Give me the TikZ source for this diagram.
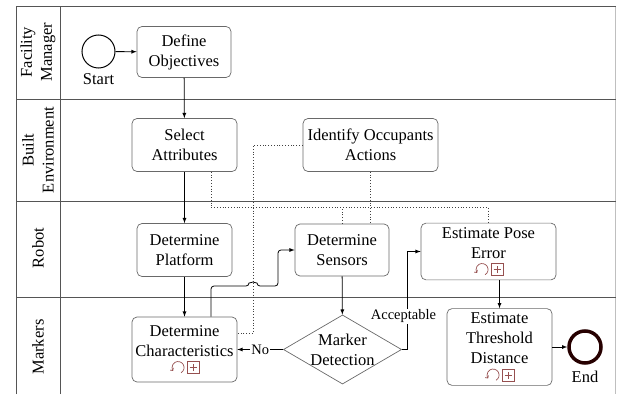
\documentclass[tikz,border=0pt]{standalone}
\usepackage{fontspec}
\setmainfont{Liberation Serif}
\usepackage{tikz}
\usetikzlibrary{shapes.geometric}
\usetikzlibrary{positioning}
\usetikzlibrary{calc}
\usetikzlibrary{arrows.meta}
\definecolor{lanegray}{RGB}{85,85,85}
\definecolor{boxgray}{RGB}{105,105,105}
\definecolor{markred}{RGB}{150,80,80}
\newcommand{\taskfont}{\fontsize{16.5}{20}\selectfont}
\newcommand{\flowfont}{\fontsize{14.5}{17}\selectfont}
\newcommand{\taskmarks}{\tikz[baseline=-3.5pt,x=1pt,y=1pt,line width=0.7pt,sharp corners,markred]{
\draw[-{Straight Barb[length=2pt,width=4pt]}] (-60:6) arc[start angle=-60,end angle=215,radius=6];
\draw (9,-6) rectangle (21,6);
\draw (11.5,0) -- (18.5,0) (15,-3.5) -- (15,3.5);}}
\tikzset{lane/.style={draw=lanegray,line width=0.9pt},
task/.style={draw=boxgray,rounded corners=5pt,align=center,font=\taskfont,line width=0.7pt,inner xsep=2pt,inner ysep=4pt},
gate/.style={diamond,draw=boxgray,align=center,font=\taskfont,line width=0.7pt,inner sep=0pt,aspect=1.71},
event/.style={circle,draw=black,inner sep=0pt},
lanelabel/.style={rotate=90,align=center,font=\taskfont},
flow/.style={-latex,line width=0.8pt},
assoc/.style={dotted,line width=0.8pt,draw=black!75},
flowlabel/.style={fill=white,inner sep=1pt,font=\flowfont}}

\begin{document}
\begin{tikzpicture}[x=1pt,y=1pt]
\useasboundingbox (0,0) rectangle (617,394);
\draw [draw=black!25,line width=0.8pt] (615.5,388) -- (615.5,0);
\draw [lane] (16,0) -- (16,388) -- (615.5,388);
\draw [lane] (60,0) -- (60,388);
\draw [lane] (16,295) -- (615.5,295);
\draw [lane] (16,193) -- (615.5,193);
\draw [lane] (16,97) -- (615.5,97);

\node (fm) at (38,342) [lanelabel] {Facility\\Manager};
\node (be) at (38,244) [lanelabel] {Built\\Environment};
\node (rb) at (38,146) [lanelabel] {Robot};
\node (mk) at (38,47) [lanelabel] {Markers};

\node (start) at (98.5,342.5) [event,line width=1pt,minimum size=33pt,label={[font=\taskfont,inner sep=5pt]below:Start}] {};
\node (define) at (184,342) [task,minimum width=94pt,minimum height=51pt] {Define\\Objectives};
\node (select) at (184.5,249) [task,minimum width=105pt,minimum height=53pt] {Select\\Attributes};
\node (identify) at (370.5,249) [task,minimum width=135pt,minimum height=53pt] {Identify Occupants\\Actions};
\node (platform) at (184.5,144) [task,minimum width=95pt,minimum height=53pt] {Determine\\Platform};
\node (sensors) at (342,144) [task,minimum width=94pt,minimum height=52pt] {Determine\\Sensors};
\node (pose) at (488.5,142.5) [task,minimum width=135pt] {Estimate Pose\\Error\\[-5pt]\taskmarks};
\node (char) at (184.5,44.5) [task,minimum width=105pt,minimum height=65pt] {Determine\\Characteristics\\[-5pt]\taskmarks};
\node (gate) at (342.5,44.5) [gate] {Marker\\Detection};
\node (thresh) at (499.5,47) [task,minimum width=105pt] {Estimate\\Threshold\\Distance\\[-5pt]\taskmarks};
\node (end) at (585,47) [event,line width=3.5pt,draw=black!85!red,minimum size=32pt,label={[font=\taskfont,inner sep=6pt]below:End}] {};

\draw [flow] (start) -- (define);
\draw [flow] (define) -- (select);
\draw [flow] (select) -- (platform);
\draw [flow] (platform) -- (char);
\draw [flow,rounded corners=3pt] ($(char.north)+(26.5,0)$) |- (249,108) arc[start angle=180,end angle=0,radius=4] -| (278,144) -- (sensors.west);
\draw [flow] (sensors) -- (gate);
\draw [flow] (gate.west) -- node[flowlabel] {No} (char.east);
\draw [flow] (gate.east) -- ++(5.5,0) |- node[flowlabel,pos=0.17,xshift=-4pt] {Acceptable} (pose.west);
\draw [flow] (pose.south -| thresh.north) -- (thresh.north);
\draw [flow] (thresh) -- (end);

\draw [assoc] ($(select.south)+(26.5,0)$) |- ($(pose.north)+(0,15)$) -- (pose.north);
\draw [assoc] (sensors.north) -- ++(0,16);
\draw [assoc] (identify.south) -- (identify.south |- sensors.north);
\draw [assoc] (identify.west) -| ($(char.east)+(16,16.5)$) -- ($(char.east)+(0,16.5)$);
\end{tikzpicture}
\end{document}
